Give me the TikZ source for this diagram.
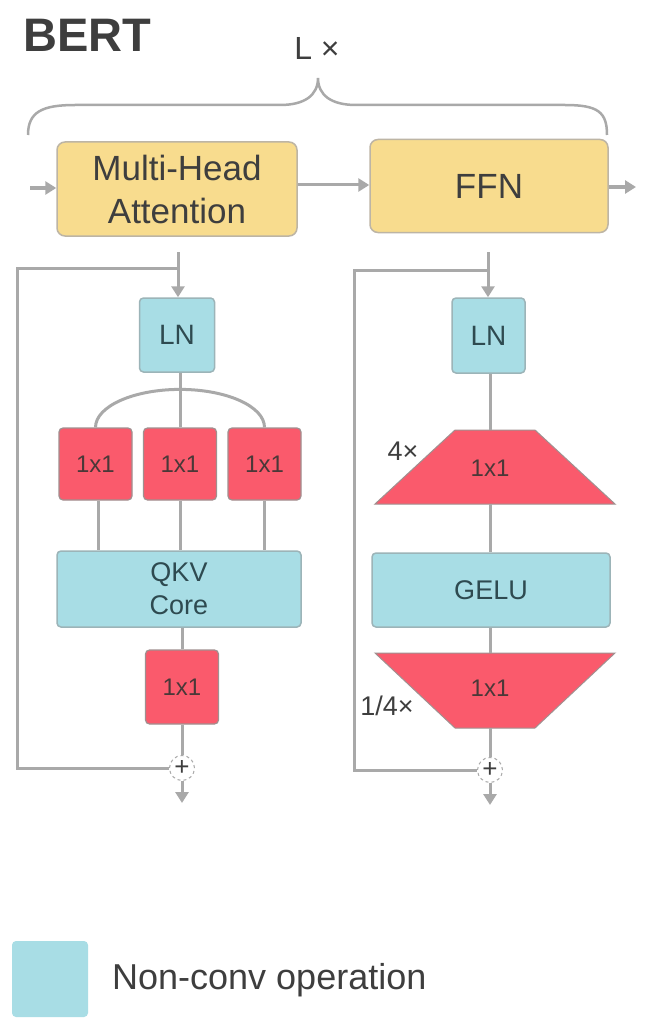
\documentclass[tikz,border=0pt]{standalone}
\usepackage{fontspec}
\setmainfont{Liberation Sans}
\usetikzlibrary{arrows.meta}
\definecolor{ylw}{HTML}{F8DC8E}
\definecolor{ylwb}{HTML}{BDB5A5}
\definecolor{blu}{HTML}{A8DDE5}
\definecolor{blub}{HTML}{9CB4B8}
\definecolor{rd}{HTML}{FA5A6C}
\definecolor{rdb}{HTML}{A09090}
\definecolor{ln}{HTML}{A9A9A9}
\definecolor{txt}{HTML}{3E3E3E}
\definecolor{btxt}{HTML}{2E4A50}
\definecolor{rtxt}{HTML}{4A3838}
\tikzset{
  ybox/.style={draw=ylwb, line width=1.5pt, fill=ylw, rounded corners=8pt, text=txt, font=\fontsize{35}{43}\selectfont, align=center},
  bbox/.style={draw=blub, line width=1.5pt, fill=blu, rounded corners=4pt, text=btxt, align=center},
  rbox/.style={draw=rdb, line width=1.2pt, fill=rd, rounded corners=4pt, text=rtxt, font=\fontsize{24}{26}\selectfont, minimum width=73pt, minimum height=72pt},
  conn/.style={draw=ln, line width=3pt},
  arr/.style={conn, -{Triangle[length=11pt,width=13pt]}},
  plusnode/.style={circle, draw=ln, dashed, line width=1pt, fill=white, minimum size=25pt, inner sep=0pt, font=\fontsize{26}{26}\selectfont, text=txt},
  lbl/.style={text=txt, font=\fontsize{27}{28}\selectfont},
}
\begin{document}
\begin{tikzpicture}[x=1pt,y=-1pt]
\useasboundingbox (0,0) rectangle (645,1035);
\fill[white] (0,0) rectangle (645,1035);
% title
\node[anchor=west, text=txt, font=\fontsize{47}{48}\selectfont\bfseries, inner sep=0] (title) at (23,35) {BERT};
\node[text=txt, font=\fontsize{32}{34}\selectfont, inner sep=0] (lx) at (317,48) {L ×};
% brace
\draw[draw=ln, line width=2.5pt] (28,135) .. controls (28,112) and (42,105) .. (75,105) -- (280,105) .. controls (305,105) and (318,95) .. (318,78) .. controls (318,95) and (331,105) .. (356,105) -- (565,105) .. controls (598,105) and (607,112) .. (607,135);
% top boxes
\node[ybox, minimum width=240pt, minimum height=94pt] (mha) at (177,189) {Multi-Head\\Attention};
\node[ybox, minimum width=238pt, minimum height=93pt] (ffn) at (489,186) {FFN};
\coordinate (in0) at (30,188);
\coordinate (out0) at (636,187);
\draw[arr] (in0) -- (in0 -| mha.west);
\draw[arr] (mha.east |- 0,185) -- (ffn.west |- 0,185);
\draw[arr] (ffn.east |- out0) -- (out0);

% left branch
\coordinate (la) at (178,252);
\coordinate (lsk) at (178,268);
\node[bbox, minimum width=75pt, minimum height=74pt, font=\fontsize{28}{28}\selectfont] (ln1) at (177,335) {LN};
\node[rbox] (q1) at (95.5,464) {1x1};
\node[rbox] (q2) at (180,464) {1x1};
\node[rbox] (q3) at (264.5,464) {1x1};
\node[bbox, minimum width=244pt, minimum height=76pt, font=\fontsize{27}{33}\selectfont] (qkv) at (179,589) {QKV\\Core};
\node[rbox, minimum height=74pt] (o1) at (182,687) {1x1};
\node[plusnode] (p1) at (182,768) {+};
\coordinate (ld) at (182,803);
\draw[arr] (la) -- (ln1.north -| la);
\draw[conn] (ln1.south -| q2) -- (q2.north);
\draw[conn] (q1.north) arc[start angle=180, end angle=0, x radius=84.5pt, y radius=38pt];
\draw[conn] (q1.south -| 98,0) -- (qkv.north -| 98,0);
\draw[conn] (q2.south) -- (qkv.north -| q2);
\draw[conn] (q3.south -| 264,0) -- (qkv.north -| 264,0);
\draw[conn] (qkv.south -| o1) -- (o1.north);
\draw[conn] (o1.south) -- (p1.north);
\draw[conn] (lsk) -- (17,268) -- (17,768) -- (p1.west);
\draw[arr] (p1.south) -- (ld);

% right branch
\coordinate (ra) at (488,252);
\coordinate (rsk) at (488,270);
\node[bbox, minimum width=73pt, minimum height=75pt, font=\fontsize{28}{28}\selectfont] (ln2) at (488.5,335.5) {LN};
\node[minimum width=240pt, minimum height=74pt, inner sep=0] (t1) at (495,467) {};
\fill[rd, draw=rdb, line width=1pt] (455,430) -- (535,430) -- (615,504) -- (375,504) -- cycle;
\node[text=rtxt, font=\fontsize{24}{26}\selectfont] (t1l) at (490,468) {1x1};
\node[lbl] (l4) at (403,451) {4×};
\node[bbox, minimum width=238pt, minimum height=74pt, font=\fontsize{27}{28}\selectfont] (gelu) at (491,590) {GELU};
\node[minimum width=240pt, minimum height=75pt, inner sep=0] (t2) at (495,690.5) {};
\fill[rd, draw=rdb, line width=1pt] (375,653) -- (615,653) -- (535,728) -- (455,728) -- cycle;
\node[text=rtxt, font=\fontsize{24}{26}\selectfont] (t2l) at (490,688) {1x1};
\node[lbl] (l14) at (387,706) {1/4×};
\node[plusnode] (p2) at (490,770) {+};
\coordinate (rd) at (490,805);
\draw[arr] (ra) -- (ln2.north -| ra);
\draw[conn] (ln2.south -| 490,0) -- (t1.north -| 490,0);
\draw[conn] (t1.south -| 490,0) -- (gelu.north -| 490,0);
\draw[conn] (gelu.south -| 490,0) -- (t2.north -| 490,0);
\draw[conn] (t2.south -| p2) -- (p2.north);
\draw[conn] (rsk) -- (354,270) -- (354,770) -- (p2.west);
\draw[arr] (p2.south) -- (rd);

% legend
\node[fill=blu, rounded corners=4pt, minimum width=76pt, minimum height=76pt] (leg) at (50,979) {};
\node[anchor=west, text=txt, font=\fontsize{36}{36}\selectfont, inner sep=0] (legt) at (112,980) {Non-conv operation};
\end{tikzpicture}
\end{document}
